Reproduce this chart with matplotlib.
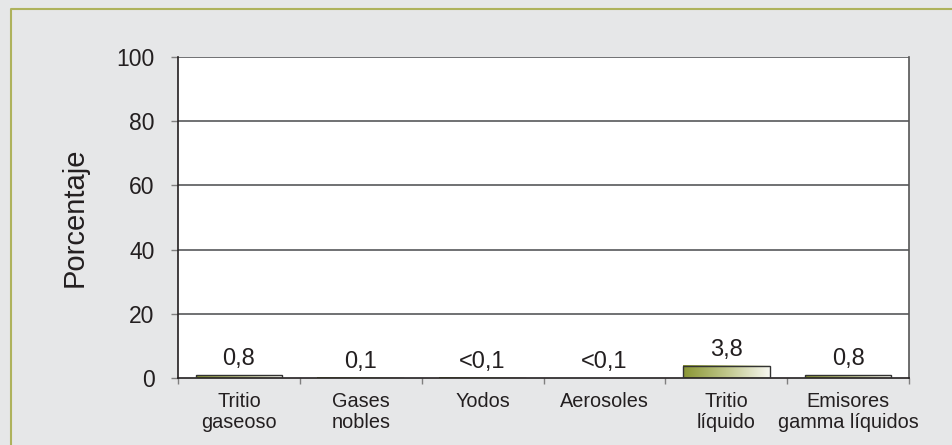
import numpy as np
import matplotlib.pyplot as plt
from matplotlib.colors import LinearSegmentedColormap
from matplotlib.lines import Line2D

plt.rcParams['font.family'] = ['Liberation Sans', 'DejaVu Sans']

categories = ['Tritio\ngaseoso', 'Gases\nnobles', 'Yodos', 'Aerosoles',
              'Tritio\nlíquido', 'Emisores\ngamma líquidos']
values = [0.8, 0.1, 0.05, 0.0, 3.8, 0.8]
value_labels = ['0,8', '0,1', '<0,1', '<0,1', '3,8', '0,8']
yticks = [0, 20, 40, 60, 80, 100]

bg = '#e6e7e8'
grad = LinearSegmentedColormap.from_list('olive', ['#8a9634', '#bfc68a', '#f7f7f0'])

fig = plt.figure(figsize=(9.52, 4.45), dpi=100, facecolor=bg)
ax = fig.add_axes([178/952, 1-378/445, 731/952, 321/445])
ax.set_facecolor('white')

x = np.arange(len(categories))
w = 0.71
gimg = np.linspace(0, 1, 256).reshape(1, -1)
for xi, v, lab in zip(x, values, value_labels):
    if v > 0:
        ax.imshow(gimg, cmap=grad, extent=[xi - w/2, xi + w/2, 0, v],
                  aspect='auto', zorder=2)
        ax.add_patch(plt.Rectangle((xi - w/2, 0), w, v, fill=False,
                                   edgecolor='#333333', lw=1.0, zorder=3))
    ax.text(xi, max(v, 0) + 1.6, lab, ha='center', va='bottom',
            fontsize=17, color='#231f20')

ax.set_xlim(-0.5, len(categories) - 0.5)
ax.set_ylim(0, 100)
ax.set_yticks(yticks)
ax.tick_params(axis='y', length=5, width=1, color='#808080', pad=12,
               labelsize=16.5, labelcolor='#231f20')
for yv in yticks[1:]:
    ax.axhline(yv, color='#58595b', lw=1.2, zorder=1)

ax.set_xticks(x)
ax.set_xticklabels(categories, fontsize=14.3, color='#231f20', linespacing=1.15)
ax.tick_params(axis='x', length=0, pad=10)
ax.set_xticks(np.arange(len(categories) + 1) - 0.5, minor=True)
ax.tick_params(axis='x', which='minor', length=4, width=1, color='#808080')

for s in ['left', 'bottom', 'right']:
    ax.spines[s].set_color('#231f20')
    ax.spines[s].set_linewidth(1.2)
ax.spines['top'].set_visible(False)
ax.spines['right'].set_color('#555555')

ax.set_ylabel('Porcentaje', fontsize=21, color='#231f20', labelpad=20)

# olive frame on top and left
fig.add_artist(Line2D([11/952, 11/952, 1], [0, 1-9/445, 1-9/445],
                      transform=fig.transFigure, color='#aeb25c', lw=1.5))

fig.savefig('out.png', dpi=100, facecolor=bg)
